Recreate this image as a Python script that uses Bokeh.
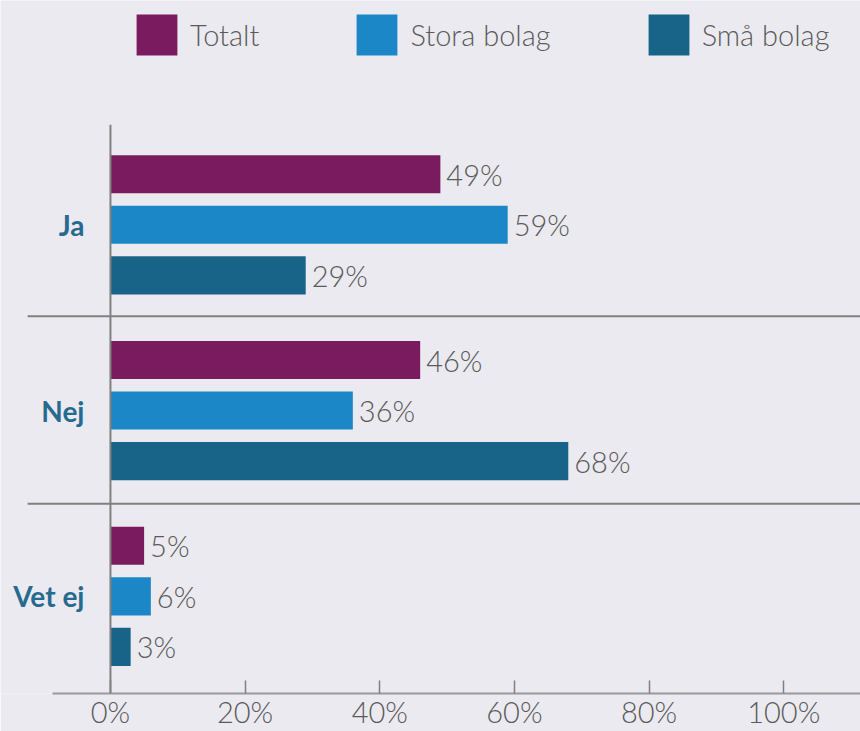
from bokeh.plotting import figure
from bokeh.models import ColumnDataSource, Range1d, Legend, LegendItem, FixedTicker
from bokeh.core.properties import value
from bokeh.embed import file_html
from bokeh.resources import INLINE

categories = ["Ja", "Nej", "Vet ej"]
series_names = ["Totalt", "Stora bolag", "Små bolag"]
totalt = [49, 46, 5]
stora = [59, 36, 6]
sma = [29, 68, 3]
x_ticks = [0, 20, 40, 60, 80, 100]

colors = ["#7b1b5f", "#1c87c6", "#186388"]
offsets = [-0.272, 0.0, 0.272]
BG = "#ebeaf0"
FONT = "Lato Light"

p = figure(width=860, height=731, output_backend="svg", toolbar_location=None,
           x_range=Range1d(-16.33, 111.4), y_range=Range1d(2.523, -1.2075),
           min_border_left=0, min_border_right=0, min_border_top=0, min_border_bottom=0,
           background_fill_color=BG, border_fill_color=BG, outline_line_color=None)
p.grid.visible = False
p.yaxis.visible = False

items = []
for vals, name, col, off in zip([totalt, stora, sma], series_names, colors, offsets):
    src = ColumnDataSource(dict(y=[i + off for i in range(len(categories))],
                                v=vals, lab=[f"{v}%" for v in vals]))
    r = p.hbar(y="y", left=0, right="v", height=0.205, source=src,
               fill_color=col, line_color=None)
    p.text(x="v", y="y", text="lab", source=src, x_offset=6,
           text_baseline="middle", text_align="left",
           text_font=value(FONT), text_font_size="29px", text_color="#5a5a5a")
    items.append(LegendItem(label=name, renderers=[r]))

# category labels
csrc = ColumnDataSource(dict(x=[0] * len(categories), y=list(range(len(categories))), t=categories))
p.text(x="x", y="y", text="t", source=csrc, x_offset=-26, text_align="right",
       text_baseline="middle", text_font=value("Lato"), text_font_size="28px",
       text_font_style="bold", text_color="#276a90")

# separators
sep_y = [0.492, 1.502]
p.segment(x0=[-12.3] * 2, y0=sep_y, x1=[120] * 2, y1=sep_y,
          line_color="#808080", line_width=2)

# vertical baseline
p.segment(x0=[0], y0=[-0.539], x1=[0], y1=[2.6], line_color="#808080", line_width=2)

ax = p.xaxis[0]
ax.ticker = FixedTicker(ticks=x_ticks)
ax.major_label_overrides = {t: f"{t}%" for t in x_ticks}
ax.bounds = (-8.6, 112)
ax.major_tick_in = 13
ax.major_tick_out = 0
ax.minor_tick_line_color = None
ax.major_tick_line_color = "#808080"
ax.major_tick_line_width = 1.5
ax.axis_line_color = "#9a9a9a"
ax.axis_line_width = 2
ax.major_label_text_font = FONT
ax.major_label_text_font_size = "29px"
ax.major_label_text_color = "#5a5a5a"
ax.major_label_standoff = 0

legend = Legend(items=items, orientation="horizontal", location=(131, 633),
                glyph_width=51, glyph_height=51, label_standoff=8, spacing=92,
                padding=0, margin=0, border_line_color=None, background_fill_alpha=0,
                label_text_font=FONT, label_text_font_size="29px", label_text_color="#5a5a5a",
                label_height=51)
p.add_layout(legend, "center")

open("out.html", "w").write(file_html(p, INLINE))
